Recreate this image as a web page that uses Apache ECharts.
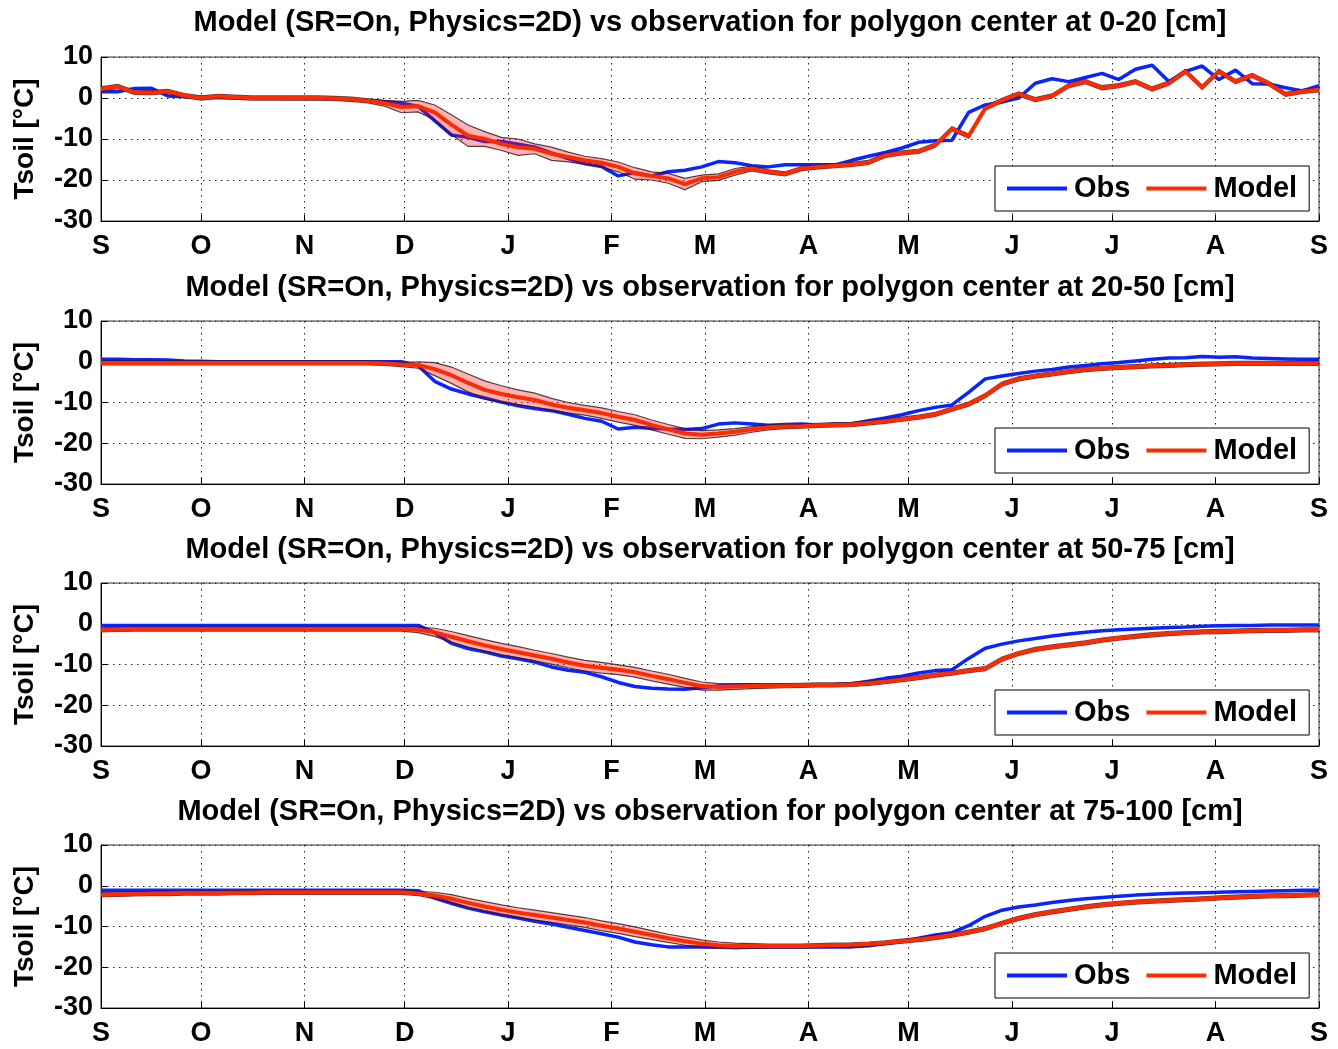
<!DOCTYPE html>
<html>
<head>
<meta charset="utf-8">
<script src="https://cdn.jsdelivr.net/npm/echarts@6/dist/echarts.min.js"></script>
<style>
html,body{margin:0;padding:0;background:#fff;}
#chart{width:1338px;height:1049px;}
</style>
</head>
<body>
<div id="chart"></div>
<script>
// ---------- data (day of year counted from 1 September) ----------
const days = [0,5,10,15,20,25,30,35,40,45,50,55,60,65,70,75,80,85,90,95,
  100,105,110,115,120,125,130,135,140,145,150,155,160,165,170,175,180,185,190,195,
  200,205,210,215,220,225,230,235,240,245,250,255,260,265,270,275,280,285,290,295,
  300,305,310,315,320,325,330,335,340,345,350,355,360,365];
const monthTicks = [0,30,61,91,122,153,181,212,242,273,303,334,365];
const monthLabels = ['S','O','N','D','J','F','M','A','M','J','J','A','S'];
const yTicks = [10,0,-10,-20,-30];
const depths = ['0-20','20-50','50-75','75-100'];

// 0-20 cm
const obs1 = [1.5,1.5,2.3,2.4,0.5,0.3,0.1,0.1,0.0,0.0,
  0.0,-0.1,-0.1,-0.1,-0.2,-0.4,-0.6,-0.9,-1.3,-2.0,
  -5.5,-9.0,-9.6,-10.6,-10.6,-11.3,-12.0,-13.4,-14.8,-16.0,
  -16.7,-19.0,-18.2,-19.0,-18.0,-17.6,-16.8,-15.5,-15.8,-16.5,
  -16.8,-16.3,-16.3,-16.3,-16.3,-15.2,-14.2,-13.3,-12.2,-10.8,
  -10.4,-10.3,-3.5,-1.7,-1.0,0.0,3.6,4.7,4.0,5.0,
  6.0,4.5,7.0,8.0,4.0,6.5,7.8,4.5,6.8,3.5,
  3.4,2.5,1.7,3.0];
const model1 = [2.2,2.8,1.4,1.3,1.6,0.6,0.0,0.4,0.2,0.0,
  0.0,0.0,0.0,0.0,-0.1,-0.3,-0.7,-1.3,-2.2,-2.0,
  -3.5,-6.5,-9.2,-10.0,-11.2,-12.0,-12.4,-13.6,-14.4,-15.2,
  -15.8,-16.8,-18.4,-19.0,-19.6,-21.0,-19.6,-19.3,-18.0,-17.2,
  -18.0,-18.5,-17.2,-16.8,-16.5,-16.2,-15.7,-14.0,-13.4,-13.0,
  -11.5,-7.5,-9.3,-2.5,-0.6,1.0,-0.4,0.5,3.0,4.0,
  2.5,3.0,4.0,2.2,3.6,6.5,2.6,6.5,4.0,5.5,
  3.5,0.9,1.6,2.0];
const spread1 = [0.5,0.5,0.5,0.5,0.5,0.5,0.5,0.5,0.5,0.5,
  0.5,0.5,0.5,0.5,0.5,0.5,0.5,0.7,1.4,1.4,
  1.8,2.4,2.6,1.8,1.6,2.0,1.2,1.6,1.2,1.0,
  1.0,1.2,1.4,1.0,1.2,1.4,0.8,0.8,0.8,0.6,
  0.5,0.5,0.5,0.5,0.5,0.5,0.5,0.5,0.5,0.5,
  0.5,0.5,0.5,0.5,0.5,0.5,0.5,0.5,0.5,0.5,
  0.5,0.5,0.5,0.5,0.5,0.5,0.5,0.5,0.5,0.5,
  0.5,0.5,0.5,0.5];

// 20-50 cm
const obs2 = [0.6,0.6,0.5,0.5,0.4,0.2,0.1,0.0,0.0,0.0,
  0.0,0.0,0.0,0.0,0.0,0.0,0.0,0.0,0.0,-0.9,
  -4.8,-6.7,-7.9,-8.9,-9.9,-10.8,-11.5,-12.0,-12.9,-13.9,
  -14.6,-16.5,-16.1,-16.3,-16.5,-16.6,-16.4,-15.3,-15.0,-15.3,
  -15.6,-15.4,-15.3,-15.5,-15.3,-15.2,-14.5,-13.8,-13.0,-12.0,
  -11.2,-10.6,-7.5,-4.2,-3.5,-2.9,-2.3,-1.9,-1.3,-0.9,
  -0.5,-0.2,0.2,0.6,0.9,1.0,1.3,1.1,1.2,0.9,
  0.8,0.7,0.6,0.6];
const model2 = [-0.3,-0.3,-0.3,-0.3,-0.3,-0.3,-0.3,-0.3,-0.3,-0.3,
  -0.3,-0.3,-0.3,-0.3,-0.3,-0.3,-0.3,-0.4,-0.7,-0.8,
  -1.8,-3.3,-5.2,-6.9,-7.9,-8.7,-9.4,-10.5,-11.3,-11.9,
  -12.6,-13.5,-14.3,-15.5,-16.6,-17.6,-17.9,-17.6,-17.2,-16.6,
  -16.1,-15.9,-15.8,-15.6,-15.5,-15.4,-15.0,-14.6,-14.1,-13.6,
  -12.9,-11.6,-10.4,-8.3,-5.5,-4.2,-3.5,-3.0,-2.4,-1.9,
  -1.6,-1.4,-1.2,-1.0,-0.9,-0.7,-0.6,-0.5,-0.4,-0.4,
  -0.4,-0.4,-0.4,-0.4];
const spread2 = [0.5,0.5,0.5,0.5,0.5,0.5,0.5,0.5,0.5,0.5,
  0.5,0.5,0.5,0.5,0.5,0.5,0.5,0.5,0.5,0.8,
  1.6,2.0,2.2,2.2,2.0,1.8,1.7,1.5,1.3,1.2,
  1.3,1.3,1.3,1.2,1.2,1.2,1.0,0.9,0.8,0.7,
  0.6,0.5,0.5,0.5,0.5,0.5,0.5,0.5,0.5,0.5,
  0.5,0.5,0.5,0.5,0.5,0.5,0.5,0.5,0.5,0.5,
  0.5,0.5,0.5,0.5,0.5,0.5,0.5,0.5,0.5,0.5,
  0.5,0.5,0.5,0.5];

// 50-75 cm
const obs3 = [-0.4,-0.4,-0.4,-0.4,-0.4,-0.4,-0.4,-0.4,-0.4,-0.4,
  -0.4,-0.4,-0.4,-0.4,-0.4,-0.4,-0.4,-0.4,-0.4,-0.4,
  -2.2,-4.8,-6.1,-6.9,-7.9,-8.6,-9.4,-10.6,-11.4,-11.9,
  -13.0,-14.4,-15.4,-15.8,-16.0,-16.1,-15.7,-15.3,-15.1,-15.0,
  -15.0,-15.0,-15.0,-15.0,-14.9,-14.7,-14.1,-13.4,-12.9,-12.1,
  -11.5,-11.3,-8.5,-6.0,-5.0,-4.2,-3.6,-3.0,-2.5,-2.1,
  -1.7,-1.5,-1.3,-1.1,-0.9,-0.8,-0.6,-0.5,-0.4,-0.4,
  -0.3,-0.3,-0.3,-0.3];
const model3 = [-1.5,-1.4,-1.3,-1.3,-1.3,-1.3,-1.3,-1.3,-1.3,-1.3,
  -1.3,-1.3,-1.3,-1.3,-1.3,-1.3,-1.3,-1.3,-1.3,-1.5,
  -2.1,-3.2,-4.3,-5.3,-6.2,-7.0,-7.8,-8.6,-9.5,-10.3,
  -10.8,-11.3,-11.9,-12.8,-13.6,-14.5,-15.3,-15.5,-15.4,-15.3,
  -15.3,-15.2,-15.1,-15.0,-15.0,-14.9,-14.6,-14.2,-13.7,-13.2,
  -12.6,-12.1,-11.5,-11.0,-8.7,-7.3,-6.3,-5.7,-5.2,-4.7,
  -4.0,-3.5,-3.1,-2.7,-2.4,-2.2,-2.0,-1.9,-1.8,-1.7,
  -1.6,-1.6,-1.5,-1.5];
const spread3 = [0.5,0.5,0.5,0.5,0.5,0.5,0.5,0.5,0.5,0.5,
  0.5,0.5,0.5,0.5,0.5,0.5,0.5,0.5,0.5,0.7,
  1.0,1.3,1.4,1.4,1.4,1.4,1.3,1.3,1.3,1.3,
  1.3,1.2,1.2,1.2,1.2,1.1,1.0,0.8,0.7,0.6,
  0.5,0.5,0.5,0.5,0.5,0.5,0.5,0.5,0.5,0.5,
  0.5,0.5,0.5,0.5,0.5,0.5,0.5,0.5,0.5,0.5,
  0.5,0.5,0.5,0.5,0.5,0.5,0.5,0.5,0.5,0.5,
  0.5,0.5,0.5,0.5];

// 75-100 cm
const obs4 = [-1.1,-1.1,-1.1,-1.1,-1.1,-1.1,-1.1,-1.1,-1.1,-1.1,
  -1.1,-1.1,-1.1,-1.1,-1.1,-1.1,-1.1,-1.1,-1.1,-1.2,
  -3.0,-4.3,-5.5,-6.4,-7.2,-7.9,-8.7,-9.4,-10.2,-11.0,
  -11.8,-12.6,-13.8,-14.5,-15.0,-15.0,-15.0,-15.0,-15.0,-15.0,
  -15.0,-15.0,-15.0,-15.0,-15.0,-15.0,-14.7,-14.2,-13.7,-12.9,
  -12.1,-11.5,-9.8,-7.5,-6.0,-5.2,-4.7,-4.1,-3.6,-3.2,
  -2.9,-2.6,-2.3,-2.1,-1.9,-1.8,-1.7,-1.6,-1.5,-1.4,
  -1.3,-1.2,-1.1,-1.1];
const model4 = [-2.2,-2.1,-2.0,-1.9,-1.9,-1.8,-1.8,-1.8,-1.7,-1.7,
  -1.6,-1.6,-1.6,-1.6,-1.6,-1.6,-1.6,-1.6,-1.6,-1.9,
  -2.4,-3.2,-4.2,-5.1,-5.9,-6.6,-7.2,-7.8,-8.4,-9.0,
  -9.8,-10.5,-11.3,-12.1,-12.9,-13.6,-14.2,-14.6,-14.8,-14.8,
  -14.8,-14.8,-14.8,-14.7,-14.6,-14.5,-14.3,-14.0,-13.6,-13.2,
  -12.7,-12.1,-11.4,-10.5,-9.2,-8.0,-7.1,-6.4,-5.8,-5.2,
  -4.7,-4.3,-4.0,-3.8,-3.6,-3.4,-3.2,-3.0,-2.8,-2.6,
  -2.5,-2.4,-2.3,-2.2];
const spread4 = [0.5,0.5,0.5,0.5,0.5,0.5,0.5,0.5,0.5,0.5,
  0.5,0.5,0.5,0.5,0.5,0.5,0.5,0.5,0.5,0.5,
  0.8,1.0,1.1,1.2,1.2,1.2,1.2,1.2,1.2,1.2,
  1.2,1.2,1.2,1.1,1.0,1.0,0.9,0.8,0.7,0.6,
  0.5,0.5,0.5,0.5,0.5,0.5,0.5,0.5,0.5,0.5,
  0.5,0.5,0.5,0.5,0.5,0.5,0.5,0.5,0.5,0.5,
  0.5,0.5,0.5,0.5,0.5,0.5,0.5,0.5,0.5,0.5,
  0.5,0.5,0.5,0.5];

const obsAll = [obs1, obs2, obs3, obs4];
const modelAll = [model1, model2, model3, model4];
const spreadAll = [spread1, spread2, spread3, spread4];

// ---------- layout ----------
const FONT = '"Liberation Sans", Arial, Helvetica, sans-serif';
const gridTops = [57, 321, 583, 845];
const gridHeights = [164, 163, 163, 163];
const titleY = [23, 288, 550, 812];
const legendTops = [166, 428, 690, 953];
const OBS_COLOR = '#0a24ff';
const MODEL_COLOR = '#ff2a00';

const grids = [], xAxes = [], yAxes = [], legends = [], series = [], graphics = [];

for (let i = 0; i < 4; i++) {
  grids.push({left: 101, right: 19, top: gridTops[i], height: gridHeights[i],
    show: true, borderColor: '#333', borderWidth: 1, backgroundColor: '#fff'});
  xAxes.push({
    type: 'value', gridIndex: i, min: 0, max: 365,
    axisLine: {show: true, onZero: false, lineStyle: {color: '#000', width: 1}},
    axisTick: {show: true, inside: true, length: 6, customValues: monthTicks, lineStyle: {color: '#000'}},
    axisLabel: {customValues: monthTicks, margin: 12, color: '#000', fontSize: 27, fontWeight: 'bold', fontFamily: FONT,
      formatter: v => monthLabels[monthTicks.indexOf(v)]},
    splitLine: {show: true, lineStyle: {color: '#222', type: [1.5, 4.5], width: 1}}
  });
  yAxes.push({
    type: 'value', gridIndex: i, min: -30, max: 10, interval: 10,
    name: 'Tsoil [°C]', nameLocation: 'middle', nameRotate: 90, nameGap: 62,
    nameTextStyle: {color: '#000', fontSize: 28, fontWeight: 'bold', fontFamily: FONT},
    axisLine: {show: true, lineStyle: {color: '#000', width: 1}},
    axisTick: {show: true, inside: true, length: 6, lineStyle: {color: '#000'}},
    axisLabel: {margin: 8, color: '#000', fontSize: 27, fontWeight: 'bold', fontFamily: FONT,
      formatter: v => (yTicks.indexOf(v) >= 0 ? String(v) : '')},
    splitLine: {show: true, lineStyle: {color: '#222', type: [1.5, 4.5], width: 1}}
  });
  legends.push({
    left: 995, top: legendTops[i], orient: 'horizontal', data: ['Obs', 'Model'],
    icon: 'rect', itemWidth: 60, itemHeight: 4, itemGap: 16,
    padding: [8, 12, 8, 12], borderColor: '#000', borderWidth: 1, backgroundColor: '#fff',
    selectedMode: false,
    textStyle: {color: '#000', fontSize: 29, fontWeight: 'bold', fontFamily: FONT, padding: [0, 0, 0, 2]}
  });
  graphics.push({
    type: 'text', x: 710, y: titleY[i], z: 100,
    style: {text: 'Model (SR=On, Physics=2D) vs observation for polygon center at ' + depths[i] + ' [cm]',
      align: 'center', verticalAlign: 'middle', fill: '#000',
      font: 'bold 29px ' + FONT}
  });

  const obs = obsAll[i], mod = modelAll[i], spr = spreadAll[i];
  series.push({
    name: 'Obs', type: 'line', xAxisIndex: i, yAxisIndex: i, z: 2,
    showSymbol: false, symbol: 'none', animation: false,
    lineStyle: {color: OBS_COLOR, width: 3.5}, itemStyle: {color: OBS_COLOR},
    data: days.map((d, k) => [d, obs[k]])
  });
  series.push({
    name: 'band' + i, type: 'custom', xAxisIndex: i, yAxisIndex: i, z: 3,
    silent: true, animation: false, clip: true,
    data: days.map((d, k) => [d, mod[k] - spr[k], mod[k] + spr[k]]),
    encode: {x: 0, y: [1, 2]},
    renderItem: (params, api) => {
      if (params.dataIndex !== 0) return null;
      const pts = [];
      for (let k = 0; k < days.length; k++) pts.push(api.coord([days[k], mod[k] + spr[k]]));
      for (let k = days.length - 1; k >= 0; k--) pts.push(api.coord([days[k], mod[k] - spr[k]]));
      return {type: 'polygon', shape: {points: pts},
        style: {fill: 'rgba(255,0,0,0.3)', stroke: 'rgba(50,20,20,0.8)', lineWidth: 1.2}};
    }
  });
  series.push({
    name: 'Model', type: 'line', xAxisIndex: i, yAxisIndex: i, z: 4,
    showSymbol: false, symbol: 'none', animation: false,
    lineStyle: {color: MODEL_COLOR, width: 4}, itemStyle: {color: MODEL_COLOR},
    data: days.map((d, k) => [d, mod[k]])
  });
}

const chart = echarts.init(document.getElementById('chart'), null, {renderer: 'canvas'});
chart.setOption({
  backgroundColor: '#fff',
  animation: false,
  grid: grids, xAxis: xAxes, yAxis: yAxes, legend: legends,
  graphic: graphics, series: series
});
</script>
</body>
</html>
